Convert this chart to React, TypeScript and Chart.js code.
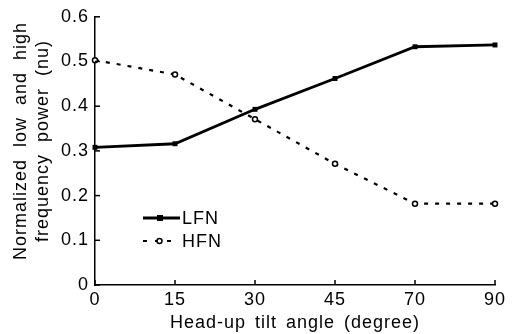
import React, { useEffect, useRef } from "react";
import { Chart, registerables } from "chart.js";

Chart.register(...registerables);

const angles = ["0", "15", "30", "45", "70", "90"];
const lfn = [0.308, 0.316, 0.393, 0.462, 0.533, 0.537];
const hfn = [0.503, 0.471, 0.371, 0.271, 0.182, 0.182];
const yTitleLines = ["Normalized low and high", "frequency power (nu)"];
const xTitle = "Head-up tilt angle (degree)";
const legendLabels = ["LFN", "HFN"];

const FONT = "'Liberation Sans', Arial, sans-serif";

export default function App() {
  const ref = useRef<HTMLCanvasElement | null>(null);

  useEffect(() => {
    const canvas = ref.current;
    if (!canvas) return;

    const spacingPlugin = {
      id: "spacing",
      beforeDraw(chart: any) {
        const ctx = chart.ctx as any;
        ctx.letterSpacing = "1px";
        ctx.wordSpacing = "3px";
      },
    };

    const decor = {
      id: "decor",
      afterDraw(chart: any) {
        const ctx = chart.ctx as any;
        const xs = chart.scales.x;
        const ys = chart.scales.y;
        const area = chart.chartArea;
        ctx.save();
        ctx.strokeStyle = "#000";
        ctx.lineWidth = 1.5;
        // inward ticks
        [0, 0.1, 0.2, 0.3, 0.4, 0.5, 0.6].forEach((v) => {
          const py = ys.getPixelForValue(v);
          ctx.beginPath();
          ctx.moveTo(area.left, py);
          ctx.lineTo(area.left + 5, py);
          ctx.stroke();
        });
        angles.forEach((_, i) => {
          const px = xs.getPixelForValue(i);
          ctx.beginPath();
          ctx.moveTo(px, area.bottom);
          ctx.lineTo(px, area.bottom - 5);
          ctx.stroke();
        });
        // y title
        ctx.fillStyle = "#000";
        ctx.font = `18px ${FONT}`;
        ctx.letterSpacing = "1px";
        ctx.wordSpacing = "6px";
        ctx.textAlign = "center";
        ctx.textBaseline = "middle";
        const cy = 141;
        const xsPos = [21, 43];
        yTitleLines.forEach((t, i) => {
          ctx.save();
          ctx.translate(xsPos[i], cy);
          ctx.rotate(-Math.PI / 2);
          ctx.fillText(t, 0, 0);
          ctx.restore();
        });
        // legend
        ctx.wordSpacing = "0px";
        const lx0 = 143;
        const rows = [218, 241];
        // LFN
        ctx.setLineDash([]);
        ctx.lineWidth = 2.8;
        ctx.beginPath();
        ctx.moveTo(lx0, rows[0]);
        ctx.lineTo(180, rows[0]);
        ctx.stroke();
        ctx.fillRect(157, rows[0] - 3, 6, 6);
        // HFN
        ctx.lineWidth = 2.2;
        ctx.setLineDash([4, 8]);
        ctx.beginPath();
        ctx.moveTo(lx0, rows[1]);
        ctx.lineTo(172, rows[1]);
        ctx.stroke();
        ctx.setLineDash([]);
        ctx.lineWidth = 1.5;
        ctx.beginPath();
        ctx.arc(159.5, rows[1], 2.5, 0, Math.PI * 2);
        ctx.fillStyle = "#fff";
        ctx.fill();
        ctx.stroke();
        ctx.fillStyle = "#000";
        ctx.textAlign = "left";
        ctx.letterSpacing = "1px";
        ctx.fillText(legendLabels[0], 182, rows[0] + 1);
        ctx.fillText(legendLabels[1], 182, rows[1] + 1);
        ctx.restore();
      },
    };

    const chart = new Chart(canvas, {
      type: "line",
      data: {
        labels: angles,
        datasets: [
          {
            label: legendLabels[0],
            data: lfn,
            borderColor: "#000",
            backgroundColor: "#000",
            borderWidth: 2.8,
            pointStyle: "rect",
            pointRadius: 3.5,
            pointBorderWidth: 0,
            tension: 0,
            clip: false as any,
          },
          {
            label: legendLabels[1],
            data: hfn,
            borderColor: "#000",
            backgroundColor: "#fff",
            borderWidth: 2.2,
            borderDash: [4, 7],
            pointStyle: "circle",
            pointRadius: 2.5,
            pointBorderWidth: 1.5,
            tension: 0,
            clip: false as any,
          },
        ],
      },
      options: {
        responsive: false,
        animation: false,
        devicePixelRatio: 1,
        layout: { padding: { top: 15, right: 19, left: 0, bottom: 0 } },
        plugins: {
          legend: { display: false },
          tooltip: { enabled: false },
        },
        scales: {
          x: {
            type: "category",
            offset: false,
            grid: { display: false, drawTicks: false },
            border: { display: true, color: "#000", width: 1.5 },
            ticks: {
              color: "#000",
              font: { family: FONT, size: 18 },
              padding: 4,
              maxRotation: 0,
              autoSkip: false,
            },
            title: {
              display: true,
              text: xTitle,
              color: "#000",
              font: { family: FONT, size: 18 },
              padding: { top: 0, bottom: 0 },
            },
            afterFit(scale: any) {
              scale.height = 49;
            },
          },
          y: {
            min: 0,
            max: 0.6,
            grid: { display: false, drawTicks: false },
            border: { display: true, color: "#000", width: 1.5 },
            ticks: {
              stepSize: 0.1,
              color: "#000",
              font: { family: FONT, size: 18 },
              padding: 6,
              callback: (v: any) => (Number(v) === 0 ? "0" : Number(v).toFixed(1)),
            },
            afterFit(scale: any) {
              scale.width = 95;
            },
          },
        },
      },
      plugins: [spacingPlugin, decor],
    });

    return () => chart.destroy();
  }, []);

  return (
    <div style={{ position: "fixed", left: 0, top: 0, width: 514, height: 334, background: "#fff" }}>
      <canvas ref={ref} width={514} height={334} style={{ width: 514, height: 334 }} />
    </div>
  );
}
